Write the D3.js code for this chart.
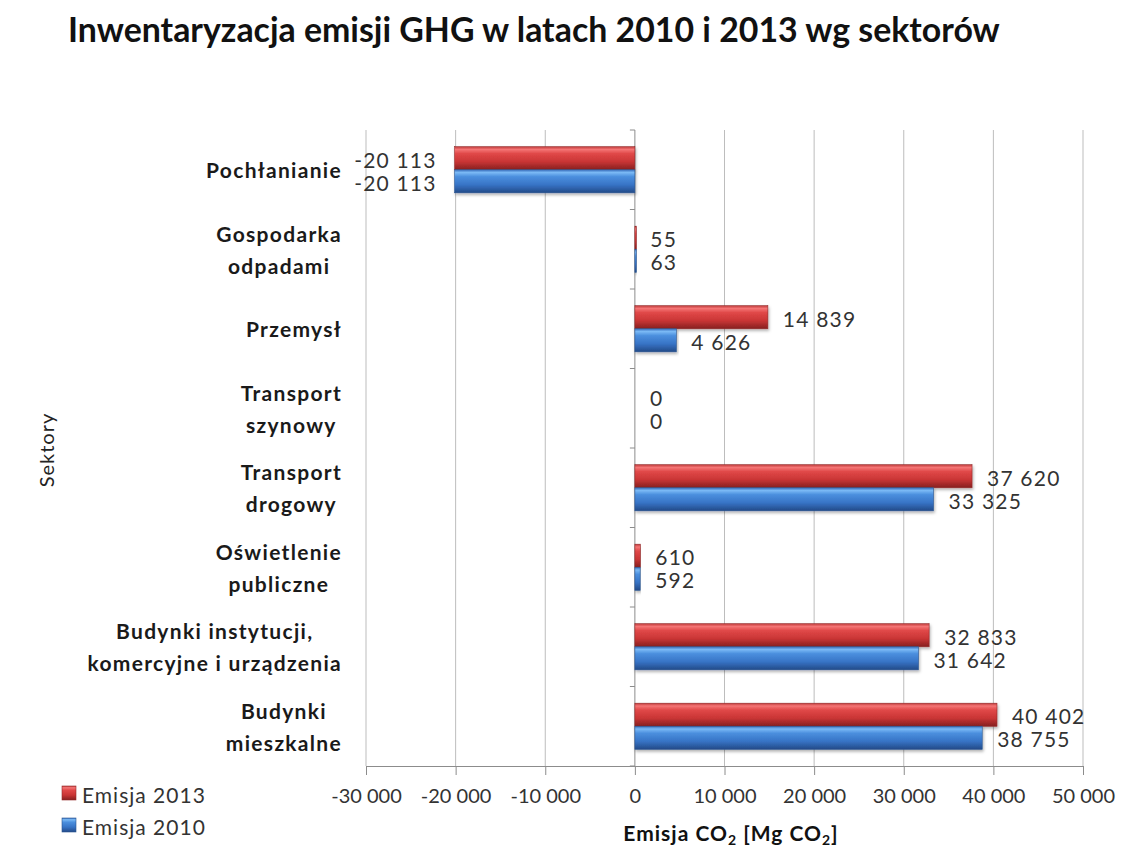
<!DOCTYPE html>
<html>
<head>
<meta charset="utf-8">
<script src="https://cdn.jsdelivr.net/npm/d3@7"></script>
<style>
  body { margin: 0; background: #fff; }
  svg { display: block; font-family: Lato, "Open Sans", sans-serif; }
</style>
</head>
<body>
<svg id="chart" width="1121" height="850"></svg>
<script>
// dane
const sectors = [
    ["Pochłanianie"],
    ["Gospodarka", "odpadami"],
    ["Przemysł"],
    ["Transport", "szynowy"],
    ["Transport", "drogowy"],
    ["Oświetlenie", "publiczne"],
    ["Budynki instytucji,", "komercyjne i urządzenia"],
    ["Budynki", "mieszkalne"]
];
const emisja2013 = [-20113, 55, 14839, 0, 37620, 610, 32833, 40402];
const emisja2010 = [-20113, 63, 4626, 0, 33325, 592, 31642, 38755];
const seriesNames = ["Emisja 2013", "Emisja 2010"];
const xTicks = [-30000, -20000, -10000, 0, 10000, 20000, 30000, 40000, 50000];

const svg = d3.select("#chart");
const plotLeft = 366, plotRight = 1083, plotTop = 130, plotBottom = 766;

const locale = d3.formatLocale({ decimal: ",", thousands: " ", grouping: [3], currency: ["", ""], minus: "-" });
const fmt = locale.format(",d");

const x = d3.scaleLinear().domain([-30000, 50000]).range([plotLeft, plotRight]);
const y = d3.scaleBand().domain(d3.range(sectors.length)).range([plotTop, plotBottom])
    .paddingInner(0.42).paddingOuter(0.21);
const ySub = d3.scaleBand().domain([0, 1]).range([0, y.bandwidth()]);

// gradienty "walcowe" słupków
const defs = svg.append("defs");
function barGradient(id, stops) {
    const g = defs.append("linearGradient").attr("id", id)
        .attr("x1", 0).attr("y1", 0).attr("x2", 0).attr("y2", 1);
    stops.forEach(s => g.append("stop").attr("offset", s[0]).attr("stop-color", s[1]));
}
barGradient("gRed", [[0, "#c03c3c"], [0.12, "#f47575"], [0.3, "#e04848"], [0.65, "#c93535"], [1, "#862020"]]);
barGradient("gBlue", [[0, "#3a70bd"], [0.12, "#7ab9f5"], [0.3, "#4b8fde"], [0.65, "#3774c6"], [1, "#234a88"]]);
const colors = ["url(#gRed)", "url(#gBlue)"];
const strokes = ["#932a2a", "#2a5590"];

const shadow = defs.append("filter").attr("id", "shadow")
    .attr("x", "-5%").attr("y", "-30%").attr("width", "110%").attr("height", "170%");
shadow.append("feDropShadow").attr("dx", 1).attr("dy", 2).attr("stdDeviation", 1.5)
    .attr("flood-color", "#000").attr("flood-opacity", 0.3);

// tytuł
const title = svg.append("text")
    .attr("x", 68).attr("y", 42)
    .style("font-size", "28px").style("font-weight", "bold").style("fill", "#111")
    .text("Inwentaryzacja emisji GHG w latach 2010 i 2013 wg sektorów");
const tw = title.node().getComputedTextLength();
title.style("font-size", (28 * 932 / tw) + "px");

// siatka
svg.append("g").selectAll("line")
    .data(xTicks.filter(d => d !== 0))
    .enter().append("line")
    .attr("x1", d => x(d)).attr("x2", d => x(d))
    .attr("y1", plotTop).attr("y2", plotBottom)
    .style("stroke", "#bdbdbd").style("stroke-width", 1);

// oś X
const xAxis = svg.append("g").attr("transform", `translate(0,${plotBottom})`)
    .call(d3.axisBottom(x).tickValues(xTicks).tickFormat(fmt).tickSize(9).tickSizeOuter(0).tickPadding(14));
xAxis.select(".domain").style("stroke", "#8c8c8c");
xAxis.selectAll(".tick line").style("stroke", "#8c8c8c");
xAxis.selectAll(".tick text").style("font-size", "20px").style("fill", "#333")
    .style("font-family", "Lato, sans-serif");

// oś kategorii na wartości 0
const zero = svg.append("g");
zero.append("line").attr("x1", x(0)).attr("x2", x(0)).attr("y1", plotTop).attr("y2", plotBottom)
    .style("stroke", "#8c8c8c");
zero.selectAll(".sep").data(d3.range(sectors.length + 1)).enter().append("line")
    .attr("class", "sep")
    .attr("x1", x(0) - 5).attr("x2", x(0))
    .attr("y1", i => plotTop + i * y.step()).attr("y2", i => plotTop + i * y.step())
    .style("stroke", "#8c8c8c");

// słupki
const series = [emisja2013, emisja2010];
const groups = svg.append("g").selectAll("g")
    .data(sectors).enter().append("g")
    .attr("transform", (d, i) => `translate(0,${y(i)})`);

groups.each(function (d, i) {
    const g = d3.select(this);
    series.forEach((vals, s) => {
        const v = vals[i];
        const x0 = Math.min(x(0), x(v)), w = Math.abs(x(v) - x(0));
        if (w > 0) {
            g.append("rect")
                .attr("x", x0).attr("y", ySub(s))
                .attr("width", Math.max(w, 1.5)).attr("height", ySub.bandwidth())
                .style("fill", colors[s]).style("stroke", strokes[s]).style("stroke-width", 0.6)
                .attr("filter", "url(#shadow)");
        }
        g.append("text")
            .attr("x", v < 0 ? x(v) - 18 : x(v) + 15)
            .attr("y", ySub(s) + ySub.bandwidth() / 2 + 1)
            .attr("dominant-baseline", "central")
            .attr("text-anchor", v < 0 ? "end" : "start")
            .style("font-size", "21px").style("fill", "#333").style("letter-spacing", "1.2px")
            .text(fmt(v));
    });
});

// etykiety sektorów
const labelRight = 342, lineGap = 32;
sectors.forEach((lines, i) => {
    const cy = y(i) + y.bandwidth() / 2;
    const g = svg.append("g");
    const texts = lines.map((t, k) => g.append("text")
        .attr("y", cy + (k - (lines.length - 1) / 2) * lineGap)
        .attr("dominant-baseline", "central")
        .attr("text-anchor", "middle")
        .style("font-size", "21px").style("font-weight", "bold").style("fill", "#1a1a1a")
        .style("letter-spacing", "1.3px")
        .text(t));
    const maxW = d3.max(texts, t => t.node().getComputedTextLength());
    texts.forEach(t => t.attr("x", labelRight - maxW / 2));
});

// tytuły osi
svg.append("text")
    .attr("transform", "translate(46,450) rotate(-90)")
    .attr("text-anchor", "middle").attr("dominant-baseline", "central")
    .style("font-size", "20px").style("fill", "#222").style("letter-spacing", "1px")
    .text("Sektory");

const xt = svg.append("text")
    .attr("x", 731).attr("y", 841).attr("text-anchor", "middle")
    .style("font-size", "21px").style("font-weight", "bold").style("fill", "#111")
    .style("letter-spacing", "1px");
xt.append("tspan").text("Emisja CO");
xt.append("tspan").attr("dy", 4).style("font-size", "14px").text("2");
xt.append("tspan").attr("dy", -4).text(" [Mg CO");
xt.append("tspan").attr("dy", 4).style("font-size", "14px").text("2");
xt.append("tspan").attr("dy", -4).text("]");

// legenda
const legend = svg.append("g").selectAll("g")
    .data(seriesNames).enter().append("g")
    .attr("transform", (d, i) => `translate(62,${786 + i * 32})`);
legend.append("rect")
    .attr("width", 14).attr("height", 14)
    .style("fill", (d, i) => colors[i]).style("stroke", (d, i) => strokes[i]).style("stroke-width", 0.6);
legend.append("text")
    .attr("x", 20).attr("y", 8).attr("dominant-baseline", "central")
    .style("font-size", "21px").style("fill", "#333").style("letter-spacing", "1px")
    .text(d => d);
</script>
</body>
</html>
